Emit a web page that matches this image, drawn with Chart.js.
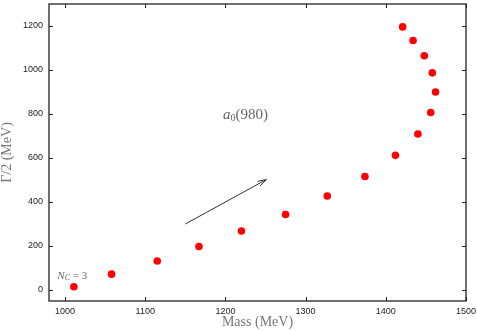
<!DOCTYPE html>
<html>
<head>
<meta charset="utf-8">
<script src="https://cdn.jsdelivr.net/npm/chart.js@4.4.0/dist/chart.umd.min.js"></script>
<style>
  html, body { margin: 0; padding: 0; background: #fff; }
  #wrap { width: 477px; height: 331px; position: relative; }
</style>
</head>
<body>
<div id="wrap"><canvas id="c" width="477" height="331"></canvas></div>
<script>
// Data
const massMeV      = [1011, 1058, 1115, 1167, 1220, 1275, 1327, 1374, 1412, 1440, 1456, 1462, 1458, 1448, 1434, 1421];
const halfWidthMeV = [15, 72, 132, 198, 268, 343, 427, 516, 612, 709, 807, 900, 987, 1065, 1134, 1196];
const xTickValues  = [1000, 1100, 1200, 1300, 1400, 1500];
const yTickValues  = [0, 200, 400, 600, 800, 1000, 1200];
// annotations in data units
const arrowFrom = [1150, 300];
const arrowTo   = [1251, 502];
const labelA0   = [1225, 795];
const labelNc   = [1009, 62];

const points = massMeV.map((m, i) => ({ x: m, y: halfWidthMeV[i] }));

const framePlugin = {
  id: 'frame',
  afterDraw(chart) {
    const { ctx, chartArea: a, scales } = chart;
    const xs = scales.x, ys = scales.y;
    ctx.save();
    ctx.strokeStyle = '#222';
    ctx.lineWidth = 1.3;
    ctx.strokeRect(a.left, a.top, a.right - a.left, a.bottom - a.top);
    ctx.lineWidth = 1;
    const tl = 4;
    ctx.beginPath();
    xTickValues.forEach(v => {
      const px = Math.round(xs.getPixelForValue(v)) + 0.5;
      ctx.moveTo(px, a.bottom); ctx.lineTo(px, a.bottom - tl);
      ctx.moveTo(px, a.top); ctx.lineTo(px, a.top + tl);
    });
    yTickValues.forEach(v => {
      const py = Math.round(ys.getPixelForValue(v)) + 0.5;
      ctx.moveTo(a.left, py); ctx.lineTo(a.left + tl, py);
      ctx.moveTo(a.right, py); ctx.lineTo(a.right - tl, py);
    });
    ctx.stroke();

    // arrow
    const x0 = xs.getPixelForValue(arrowFrom[0]), y0 = ys.getPixelForValue(arrowFrom[1]);
    const x1 = xs.getPixelForValue(arrowTo[0]),   y1 = ys.getPixelForValue(arrowTo[1]);
    ctx.strokeStyle = '#333';
    ctx.lineWidth = 1;
    ctx.beginPath();
    ctx.moveTo(x0, y0); ctx.lineTo(x1, y1);
    const ang = Math.atan2(y1 - y0, x1 - x0);
    const hl = 9, ha = 0.3;
    ctx.moveTo(x1, y1); ctx.lineTo(x1 - hl * Math.cos(ang - ha), y1 - hl * Math.sin(ang - ha));
    ctx.moveTo(x1, y1); ctx.lineTo(x1 - hl * Math.cos(ang + ha), y1 - hl * Math.sin(ang + ha));
    ctx.stroke();

    // a0(980) label
    ctx.fillStyle = '#666';
    ctx.textBaseline = 'middle';
    const lx = xs.getPixelForValue(labelA0[0]), ly = ys.getPixelForValue(labelA0[1]);
    const parts1 = [
      { t: 'a', f: 'italic 15px "Liberation Serif"', dy: 0 },
      { t: '0', f: '10px "Liberation Serif"', dy: 3.5 },
      { t: '(980)', f: '15px "Liberation Serif"', dy: 0 }
    ];
    drawParts(ctx, parts1, lx, ly);

    const nx = xs.getPixelForValue(labelNc[0]), ny = ys.getPixelForValue(labelNc[1]);
    const parts2 = [
      { t: 'N', f: 'italic 11px "Liberation Serif"', dy: 0 },
      { t: 'C', f: 'italic 8px "Liberation Serif"', dy: 2 },
      { t: ' = 3', f: '11px "Liberation Serif"', dy: 0 }
    ];
    drawParts(ctx, parts2, nx, ny);
    ctx.restore();
  }
};

function drawParts(ctx, parts, cx, cy) {
  let w = 0;
  parts.forEach(p => { ctx.font = p.f; p.w = ctx.measureText(p.t).width; w += p.w; });
  let x = cx - w / 2;
  ctx.textAlign = 'left';
  parts.forEach(p => { ctx.font = p.f; ctx.fillText(p.t, x, cy + p.dy); x += p.w; });
}

new Chart(document.getElementById('c'), {
  type: 'scatter',
  data: {
    datasets: [{
      data: points,
      backgroundColor: '#ff0000',
      borderColor: '#ff0000',
      pointRadius: 3.8,
      pointBorderWidth: 0
    }]
  },
  options: {
    responsive: false,
    animation: false,
    layout: { padding: { top: 1, right: 11, left: 0, bottom: 0 } },
    plugins: { legend: { display: false }, tooltip: { enabled: false } },
    scales: {
      x: {
        type: 'linear', min: 980, max: 1500,
        afterBuildTicks: s => { s.ticks = xTickValues.map(v => ({ value: v })); },
        afterFit: s => { s.height = 30; s.paddingLeft = 0; s.paddingRight = 0; },
        grid: { display: false, drawTicks: false },
        border: { display: false },
        ticks: { padding: 5, color: '#222', font: { family: 'Liberation Sans', size: 9 }, maxRotation: 0,
                 callback: v => String(v) },
        title: { display: true, text: 'Mass (MeV)', color: '#777',
                 font: { family: 'Liberation Serif', size: 14, lineHeight: 1 }, padding: { top: 0, bottom: 2 } }
      },
      y: {
        type: 'linear', min: -50, max: 1300,
        afterBuildTicks: s => { s.ticks = yTickValues.map(v => ({ value: v })); },
        afterFit: s => { s.width = 49; s.paddingTop = 0; s.paddingBottom = 0; },
        grid: { display: false, drawTicks: false },
        border: { display: false },
        ticks: { padding: 6, color: '#222', font: { family: 'Liberation Sans', size: 9 },
                 callback: v => String(v) },
        title: { display: true, text: 'Γ/2 (MeV)', color: '#777',
                 font: { family: 'Liberation Serif', size: 14, lineHeight: 1 }, padding: { top: 0, bottom: 0 } }
      }
    }
  },
  plugins: [framePlugin]
});
</script>
</body>
</html>
